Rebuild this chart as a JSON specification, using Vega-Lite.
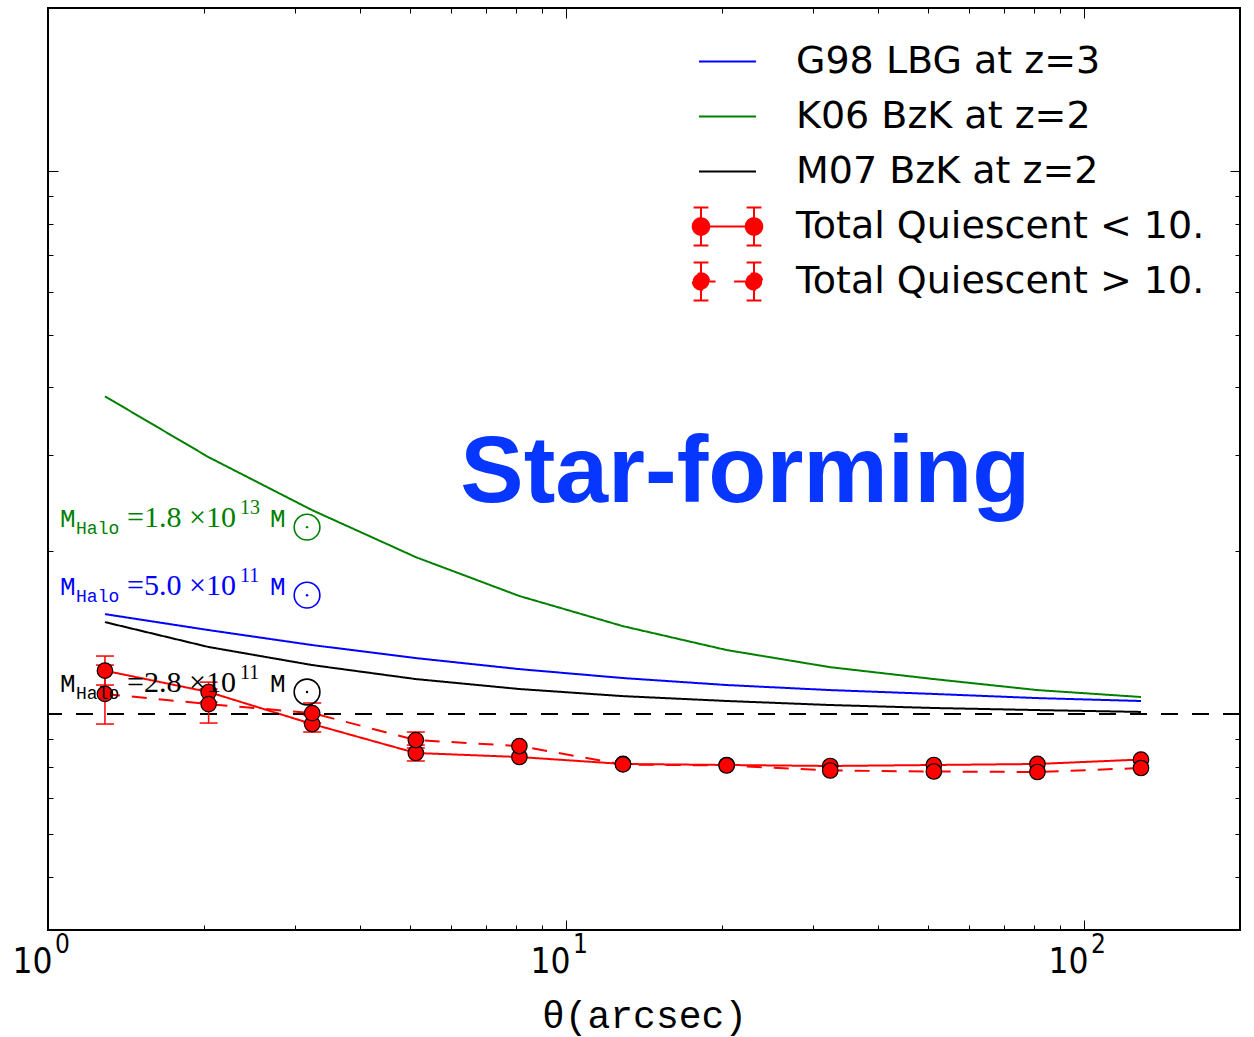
{
  "$schema": "https://vega.github.io/schema/vega-lite/v6.json",
  "width": 1192,
  "height": 922,
  "autosize": {"type": "none"},
  "padding": {"left": 48, "top": 8, "right": 14, "bottom": 107},
  "background": "white",
  "config": {
    "view": {"stroke": "black", "strokeWidth": 2},
    "axis": {"grid": false, "domain": false, "tickColor": "black", "tickWidth": 1, "labelColor": "black", "labelOverlap": false, "labelFlush": false, "title": null}
  },
  "resolve": {"axis": {"x": "independent", "y": "independent"}},
  "datasets": {
    "curves": [
      {"theta": 1.288, "w": 1.528, "series": "G98 LBG at z=3"},
      {"theta": 2.042, "w": 1.428, "series": "G98 LBG at z=3"},
      {"theta": 3.236, "w": 1.340, "series": "G98 LBG at z=3"},
      {"theta": 5.129, "w": 1.268, "series": "G98 LBG at z=3"},
      {"theta": 8.128, "w": 1.210, "series": "G98 LBG at z=3"},
      {"theta": 12.88, "w": 1.165, "series": "G98 LBG at z=3"},
      {"theta": 20.42, "w": 1.131, "series": "G98 LBG at z=3"},
      {"theta": 32.36, "w": 1.107, "series": "G98 LBG at z=3"},
      {"theta": 51.29, "w": 1.089, "series": "G98 LBG at z=3"},
      {"theta": 81.28, "w": 1.070, "series": "G98 LBG at z=3"},
      {"theta": 128.8, "w": 1.057, "series": "G98 LBG at z=3"},
      {"theta": 1.288, "w": 3.850, "series": "K06 BzK at z=2"},
      {"theta": 2.042, "w": 2.974, "series": "K06 BzK at z=2"},
      {"theta": 3.236, "w": 2.375, "series": "K06 BzK at z=2"},
      {"theta": 5.129, "w": 1.946, "series": "K06 BzK at z=2"},
      {"theta": 8.128, "w": 1.650, "series": "K06 BzK at z=2"},
      {"theta": 12.88, "w": 1.452, "series": "K06 BzK at z=2"},
      {"theta": 20.42, "w": 1.312, "series": "K06 BzK at z=2"},
      {"theta": 32.36, "w": 1.220, "series": "K06 BzK at z=2"},
      {"theta": 51.29, "w": 1.160, "series": "K06 BzK at z=2"},
      {"theta": 81.28, "w": 1.107, "series": "K06 BzK at z=2"},
      {"theta": 128.8, "w": 1.075, "series": "K06 BzK at z=2"},
      {"theta": 1.288, "w": 1.477, "series": "M07 BzK at z=2"},
      {"theta": 2.042, "w": 1.329, "series": "M07 BzK at z=2"},
      {"theta": 3.236, "w": 1.231, "series": "M07 BzK at z=2"},
      {"theta": 5.129, "w": 1.160, "series": "M07 BzK at z=2"},
      {"theta": 8.128, "w": 1.112, "series": "M07 BzK at z=2"},
      {"theta": 12.88, "w": 1.079, "series": "M07 BzK at z=2"},
      {"theta": 20.42, "w": 1.057, "series": "M07 BzK at z=2"},
      {"theta": 32.36, "w": 1.039, "series": "M07 BzK at z=2"},
      {"theta": 51.29, "w": 1.026, "series": "M07 BzK at z=2"},
      {"theta": 81.28, "w": 1.017, "series": "M07 BzK at z=2"},
      {"theta": 128.8, "w": 1.009, "series": "M07 BzK at z=2"},
      {"theta": 1.288, "w": 1.202, "lo": 1.131, "hi": 1.279, "series": "Total Quiescent < 10."},
      {"theta": 2.042, "w": 1.098, "lo": 1.052, "hi": 1.145, "series": "Total Quiescent < 10."},
      {"theta": 3.236, "w": 0.9585, "lo": 0.9265, "hi": 0.9958, "series": "Total Quiescent < 10."},
      {"theta": 5.129, "w": 0.8477, "lo": 0.8194, "hi": 0.8767, "series": "Total Quiescent < 10."},
      {"theta": 8.128, "w": 0.8333, "series": "Total Quiescent < 10."},
      {"theta": 12.88, "w": 0.8091, "series": "Total Quiescent < 10."},
      {"theta": 20.42, "w": 0.8056, "series": "Total Quiescent < 10."},
      {"theta": 32.36, "w": 0.8022, "series": "Total Quiescent < 10."},
      {"theta": 51.29, "w": 0.8056, "series": "Total Quiescent < 10."},
      {"theta": 81.28, "w": 0.8091, "series": "Total Quiescent < 10."},
      {"theta": 128.8, "w": 0.8245, "series": "Total Quiescent < 10."},
      {"theta": 1.288, "w": 1.089, "lo": 0.9585, "hi": 1.231, "series": "Total Quiescent > 10."},
      {"theta": 2.042, "w": 1.043, "lo": 0.9625, "hi": 1.112, "series": "Total Quiescent > 10."},
      {"theta": 3.236, "w": 1.004, "lo": 0.9625, "hi": 1.048, "series": "Total Quiescent > 10."},
      {"theta": 5.129, "w": 0.8956, "lo": 0.8659, "hi": 0.9265, "series": "Total Quiescent > 10."},
      {"theta": 8.128, "w": 0.8730, "series": "Total Quiescent > 10."},
      {"theta": 12.88, "w": 0.8074, "series": "Total Quiescent > 10."},
      {"theta": 20.42, "w": 0.8038, "series": "Total Quiescent > 10."},
      {"theta": 32.36, "w": 0.7870, "series": "Total Quiescent > 10."},
      {"theta": 51.29, "w": 0.7837, "series": "Total Quiescent > 10."},
      {"theta": 81.28, "w": 0.7820, "series": "Total Quiescent > 10."},
      {"theta": 128.8, "w": 0.7953, "series": "Total Quiescent > 10."}
    ],
    "halo": [
      {"theta": 1.055, "w": 2.210, "series": "K06 BzK at z=2", "mant": "=1.8 ×10", "exp": "13"},
      {"theta": 1.055, "w": 1.656, "series": "G98 LBG at z=3", "mant": "=5.0 ×10", "exp": "11"},
      {"theta": 1.055, "w": 1.098, "series": "M07 BzK at z=2", "mant": "=2.8 ×10", "exp": "11"}
    ]
  },
  "layer": [
    {
      "data": {"name": "curves"},
      "mark": {"type": "line", "strokeWidth": 2},
      "encoding": {
        "x": {
          "field": "theta", "type": "quantitative",
          "scale": {"type": "log", "domain": [1, 200], "nice": false},
          "axis": {
            "orient": "bottom",
            "values": [1, 10, 100],
            "labelExpr": "'10'",
            "labelFont": "Liberation Sans Narrow, DejaVu Sans Condensed, sans-serif",
            "labelFontSize": 35,
            "labelOffset": -16,
            "labelPadding": 14,
            "ticks": false,
            "tickSize": 0,
            "title": "θ(arcsec)",
            "titleFont": "Liberation Mono",
            "titleFontSize": 38,
            "titleFontWeight": "normal",
            "titleColor": "black",
            "titleY": 97,
            "titleBaseline": "alphabetic"
          }
        },
        "y": {
          "field": "w", "type": "quantitative",
          "scale": {"type": "log", "domain": [0.4, 20], "nice": false},
          "axis": {"orient": "left", "values": [1, 10], "labels": false, "tickSize": -10}
        },
        "color": {
          "field": "series", "type": "nominal",
          "scale": {
            "domain": ["G98 LBG at z=3", "K06 BzK at z=2", "M07 BzK at z=2", "Total Quiescent < 10.", "Total Quiescent > 10."],
            "range": ["#0000ff", "#008000", "#000000", "#ff0000", "#ff0000"]
          },
          "legend": {
            "orient": "none",
            "legendX": 650,
            "legendY": 24,
            "title": null,
            "padding": 0,
            "symbolSize": 3249,
            "symbolStrokeWidth": 2,
            "labelFont": "DejaVu Sans",
            "labelFontSize": 38,
            "labelColor": "black",
            "labelLimit": 700,
            "labelOffset": 39,
            "rowPadding": -8,
            "encode": {
              "symbols": {
                "update": {
                  "shape": {"signal": "datum.value === 'Total Quiescent < 10.' ? 'M0,-0.75M0,0.75M-0.93,0H0.93M-0.93,-0.67V0.67M-1.19,-0.67H-0.67M-1.19,0.67H-0.67M0.93,-0.67V0.67M0.67,-0.67H1.19M0.67,0.67H1.19M-1.22,0A0.29,0.29,0,1,0,-0.64,0A0.29,0.29,0,1,0,-1.22,0ZM0.64,0A0.29,0.29,0,1,0,1.22,0A0.29,0.29,0,1,0,0.64,0Z' : datum.value === 'Total Quiescent > 10.' ? 'M0,-0.75M0,0.75M-0.93,0H-0.42M0.23,0H0.93M-0.93,-0.67V0.67M-1.19,-0.67H-0.67M-1.19,0.67H-0.67M0.93,-0.67V0.67M0.67,-0.67H1.19M0.67,0.67H1.19M-1.22,0A0.29,0.29,0,1,0,-0.64,0A0.29,0.29,0,1,0,-1.22,0ZM0.64,0A0.29,0.29,0,1,0,1.22,0A0.29,0.29,0,1,0,0.64,0Z' : 'M0,-0.75M0,0.75M-1,0H1'"},
                  "fill": {"signal": "indexof(datum.value, 'Quiescent') >= 0 ? '#ff0000' : 'transparent'"},
                  "stroke": {"signal": "scale('color', datum.value)"},
                  "strokeDash": {"value": [1, 0]},
                  "opacity": {"value": 1}
                }
              }
            }
          }
        },
        "strokeDash": {
          "field": "series", "type": "nominal",
          "scale": {
            "domain": ["G98 LBG at z=3", "K06 BzK at z=2", "M07 BzK at z=2", "Total Quiescent < 10.", "Total Quiescent > 10."],
            "range": [[1, 0], [1, 0], [1, 0], [1, 0], [15, 12]]
          },
          "legend": null
        }
      }
    },
    {
      "data": {"values": [{}]},
      "mark": {"type": "rule", "color": "black", "strokeWidth": 2, "strokeDash": [17, 14]},
      "encoding": {
        "y": {"datum": 1, "type": "quantitative", "scale": {"type": "log", "domain": [0.4, 20], "nice": false}, "axis": null}
      }
    },
    {
      "data": {"name": "curves"},
      "transform": [{"filter": "isValid(datum.lo)"}],
      "mark": {"type": "rule", "color": "#ff0000", "strokeWidth": 1.5},
      "encoding": {
        "x": {
          "field": "theta", "type": "quantitative",
          "scale": {"type": "log", "domain": [1, 200], "nice": false},
          "axis": {"orient": "top", "values": [10, 100], "labels": false, "tickSize": -10}
        },
        "y": {
          "field": "lo", "type": "quantitative",
          "scale": {"type": "log", "domain": [0.4, 20], "nice": false},
          "axis": {"orient": "right", "values": [1, 10], "labels": false, "tickSize": -10}
        },
        "y2": {"field": "hi"}
      }
    },
    {
      "data": {"name": "curves"},
      "transform": [{"filter": "isValid(datum.lo)"}],
      "mark": {"type": "tick", "orient": "horizontal", "color": "#ff0000", "size": 18, "thickness": 1.5, "opacity": 1},
      "encoding": {
        "x": {
          "field": "theta", "type": "quantitative",
          "scale": {"type": "log", "domain": [1, 200], "nice": false},
          "axis": {
            "orient": "bottom",
            "values": [1, 10, 100],
            "labelExpr": "datum.value === 1 ? '0' : datum.value === 10 ? '1' : '2'",
            "labelFont": "Liberation Sans Narrow, DejaVu Sans Condensed, sans-serif",
            "labelFontSize": 26,
            "labelOffset": 14,
            "labelPadding": 1,
            "ticks": false,
            "tickSize": 0
          }
        },
        "y": {
          "field": "lo", "type": "quantitative",
          "scale": {"type": "log", "domain": [0.4, 20], "nice": false},
          "axis": {"orient": "left", "values": [0.5, 0.6, 0.7, 0.8, 0.9, 2, 3, 4, 5, 6, 7, 8, 9], "labels": false, "tickSize": -5}
        }
      }
    },
    {
      "data": {"name": "curves"},
      "transform": [{"filter": "isValid(datum.hi)"}],
      "mark": {"type": "tick", "orient": "horizontal", "color": "#ff0000", "size": 18, "thickness": 1.5, "opacity": 1},
      "encoding": {
        "x": {
          "field": "theta", "type": "quantitative",
          "scale": {"type": "log", "domain": [1, 200], "nice": false},
          "axis": {"orient": "bottom", "values": [2, 3, 4, 5, 6, 7, 8, 9, 20, 30, 40, 50, 60, 70, 80, 90], "labels": false, "tickSize": -5}
        },
        "y": {
          "field": "hi", "type": "quantitative",
          "scale": {"type": "log", "domain": [0.4, 20], "nice": false},
          "axis": {"orient": "right", "values": [0.5, 0.6, 0.7, 0.8, 0.9, 2, 3, 4, 5, 6, 7, 8, 9], "labels": false, "tickSize": -5}
        }
      }
    },
    {
      "data": {"name": "curves"},
      "transform": [{"filter": "indexof(datum.series, 'Quiescent') >= 0"}],
      "mark": {"type": "point", "shape": "circle", "filled": true, "fill": "#ff0000", "stroke": "black", "strokeWidth": 1.2, "size": 240, "opacity": 1},
      "encoding": {
        "x": {
          "field": "theta", "type": "quantitative",
          "scale": {"type": "log", "domain": [1, 200], "nice": false},
          "axis": {"orient": "bottom", "values": [10, 100], "labels": false, "tickSize": -10}
        },
        "y": {"field": "w", "type": "quantitative", "scale": {"type": "log", "domain": [0.4, 20], "nice": false}, "axis": null}
      }
    },
    {
      "data": {"name": "halo"},
      "mark": {"type": "text", "text": "M", "font": "Liberation Mono", "fontSize": 26, "align": "left", "baseline": "alphabetic"},
      "encoding": {
        "x": {
          "field": "theta", "type": "quantitative",
          "scale": {"type": "log", "domain": [1, 200], "nice": false},
          "axis": {"orient": "top", "values": [2, 3, 4, 5, 6, 7, 8, 9, 20, 30, 40, 50, 60, 70, 80, 90], "labels": false, "tickSize": -5}
        },
        "y": {"field": "w", "type": "quantitative", "scale": {"type": "log", "domain": [0.4, 20], "nice": false}, "axis": null},
        "color": {"field": "series", "type": "nominal", "scale": {"domain": ["G98 LBG at z=3", "K06 BzK at z=2", "M07 BzK at z=2", "Total Quiescent < 10.", "Total Quiescent > 10."], "range": ["#0000ff", "#008000", "#000000", "#ff0000", "#ff0000"]}, "legend": null}
      }
    },
    {
      "data": {"name": "halo"},
      "mark": {"type": "text", "text": "Halo", "font": "Liberation Mono", "fontSize": 18, "align": "left", "baseline": "alphabetic", "dx": 16, "dy": 7},
      "encoding": {
        "x": {"field": "theta", "type": "quantitative", "scale": {"type": "log", "domain": [1, 200], "nice": false}, "axis": null},
        "y": {"field": "w", "type": "quantitative", "scale": {"type": "log", "domain": [0.4, 20], "nice": false}, "axis": null},
        "color": {"field": "series", "type": "nominal", "scale": {"domain": ["G98 LBG at z=3", "K06 BzK at z=2", "M07 BzK at z=2", "Total Quiescent < 10.", "Total Quiescent > 10."], "range": ["#0000ff", "#008000", "#000000", "#ff0000", "#ff0000"]}, "legend": null}
      }
    },
    {
      "data": {"name": "halo"},
      "mark": {"type": "text", "font": "Liberation Serif", "fontSize": 30, "align": "left", "baseline": "alphabetic", "dx": 67},
      "encoding": {
        "x": {"field": "theta", "type": "quantitative", "scale": {"type": "log", "domain": [1, 200], "nice": false}, "axis": null},
        "y": {"field": "w", "type": "quantitative", "scale": {"type": "log", "domain": [0.4, 20], "nice": false}, "axis": null},
        "text": {"field": "mant"},
        "color": {"field": "series", "type": "nominal", "scale": {"domain": ["G98 LBG at z=3", "K06 BzK at z=2", "M07 BzK at z=2", "Total Quiescent < 10.", "Total Quiescent > 10."], "range": ["#0000ff", "#008000", "#000000", "#ff0000", "#ff0000"]}, "legend": null}
      }
    },
    {
      "data": {"name": "halo"},
      "mark": {"type": "text", "font": "Liberation Serif", "fontSize": 20, "align": "left", "baseline": "alphabetic", "dx": 180, "dy": -13},
      "encoding": {
        "x": {"field": "theta", "type": "quantitative", "scale": {"type": "log", "domain": [1, 200], "nice": false}, "axis": null},
        "y": {"field": "w", "type": "quantitative", "scale": {"type": "log", "domain": [0.4, 20], "nice": false}, "axis": null},
        "text": {"field": "exp"},
        "color": {"field": "series", "type": "nominal", "scale": {"domain": ["G98 LBG at z=3", "K06 BzK at z=2", "M07 BzK at z=2", "Total Quiescent < 10.", "Total Quiescent > 10."], "range": ["#0000ff", "#008000", "#000000", "#ff0000", "#ff0000"]}, "legend": null}
      }
    },
    {
      "data": {"name": "halo"},
      "mark": {"type": "text", "text": "M", "font": "Liberation Mono", "fontSize": 26, "align": "left", "baseline": "alphabetic", "dx": 210},
      "encoding": {
        "x": {"field": "theta", "type": "quantitative", "scale": {"type": "log", "domain": [1, 200], "nice": false}, "axis": null},
        "y": {"field": "w", "type": "quantitative", "scale": {"type": "log", "domain": [0.4, 20], "nice": false}, "axis": null},
        "color": {"field": "series", "type": "nominal", "scale": {"domain": ["G98 LBG at z=3", "K06 BzK at z=2", "M07 BzK at z=2", "Total Quiescent < 10.", "Total Quiescent > 10."], "range": ["#0000ff", "#008000", "#000000", "#ff0000", "#ff0000"]}, "legend": null}
      }
    },
    {
      "data": {"name": "halo"},
      "mark": {"type": "point", "shape": "circle", "filled": false, "strokeWidth": 1.6, "size": 660, "opacity": 1, "xOffset": 247, "yOffset": 0},
      "encoding": {
        "x": {"field": "theta", "type": "quantitative", "scale": {"type": "log", "domain": [1, 200], "nice": false}, "axis": null},
        "y": {"field": "w", "type": "quantitative", "scale": {"type": "log", "domain": [0.4, 20], "nice": false}, "axis": null},
        "color": {"field": "series", "type": "nominal", "scale": {"domain": ["G98 LBG at z=3", "K06 BzK at z=2", "M07 BzK at z=2", "Total Quiescent < 10.", "Total Quiescent > 10."], "range": ["#0000ff", "#008000", "#000000", "#ff0000", "#ff0000"]}, "legend": null}
      }
    },
    {
      "data": {"name": "halo"},
      "mark": {"type": "point", "shape": "circle", "filled": true, "size": 6, "opacity": 1, "xOffset": 247, "yOffset": 0},
      "encoding": {
        "x": {"field": "theta", "type": "quantitative", "scale": {"type": "log", "domain": [1, 200], "nice": false}, "axis": null},
        "y": {"field": "w", "type": "quantitative", "scale": {"type": "log", "domain": [0.4, 20], "nice": false}, "axis": null},
        "color": {"field": "series", "type": "nominal", "scale": {"domain": ["G98 LBG at z=3", "K06 BzK at z=2", "M07 BzK at z=2", "Total Quiescent < 10.", "Total Quiescent > 10."], "range": ["#0000ff", "#008000", "#000000", "#ff0000", "#ff0000"]}, "legend": null}
      }
    },
    {
      "data": {"values": [{"theta": 6.25, "w": 2.457, "label": "Star-forming"}]},
      "mark": {"type": "text", "font": "Liberation Sans", "fontWeight": "bold", "fontSize": 95, "color": "#0636ff", "align": "left", "baseline": "alphabetic"},
      "encoding": {
        "x": {"field": "theta", "type": "quantitative", "scale": {"type": "log", "domain": [1, 200], "nice": false}, "axis": null},
        "y": {"field": "w", "type": "quantitative", "scale": {"type": "log", "domain": [0.4, 20], "nice": false}, "axis": null},
        "text": {"field": "label"}
      }
    }
  ]
}
